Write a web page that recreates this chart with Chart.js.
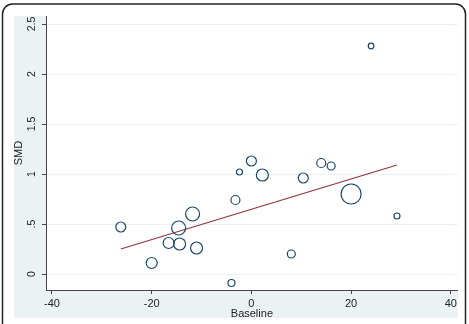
<!DOCTYPE html>
<html>
<head>
<meta charset="utf-8">
<script src="https://cdn.jsdelivr.net/npm/chart.js@4"></script>
<style>
  html, body { margin: 0; padding: 0; background: #fff; }
  #wrap { width: 469px; height: 324px; position: relative; }
</style>
</head>
<body>
<div id="wrap"><canvas id="chart"></canvas></div>
<script>
// study values
const baseline = [-26.2, -20, -16.6, -14.4, -14.6, -11.8, -11, -4, -3.2, -2.4, 0, 2.2, 8, 10.4, 14, 16, 20, 29.2, 24];
const smd = [0.47, 0.11, 0.31, 0.30, 0.46, 0.60, 0.26, -0.09, 0.74, 1.02, 1.13, 0.99, 0.20, 0.96, 1.11, 1.08, 0.80, 0.58, 2.28];
const weight = [5, 5.5, 5.5, 6, 7, 7, 6, 3.5, 4.5, 3, 5, 6, 4, 5, 4.5, 4, 10, 3, 2.8];

// fitted line end points
const fitX = [-26.2, 29.2];
const fitY = [0.25, 1.09];

const xTicks = [-40, -20, 0, 20, 40];
const yTicks = [0, 0.5, 1, 1.5, 2, 2.5];

const navy = '#1a476f';
const maroon = '#90353b';
const shade = '#eaf2f3';

const frame = {
    id: 'frame',
    beforeDraw(chart) {
        const c = chart.ctx;
        const a = chart.chartArea;
        c.save();
        c.fillStyle = '#fff';
        c.fillRect(0, 0, chart.width, chart.height);
        c.beginPath();
        c.roundRect(2.5, 4, 463, 340, 10);
        c.lineWidth = 1.5;
        c.strokeStyle = '#222';
        c.stroke();
        c.fillStyle = shade;
        c.fillRect(14, 16, a.right - 14, 318 - 16);
        c.fillStyle = '#fff';
        c.fillRect(a.left, a.top, a.right - a.left, a.bottom - a.top);
        c.restore();
    }
};

const points = baseline.map((x, i) => ({ x: x, y: smd[i], r: weight[i] }));
const fit = fitX.map((x, i) => ({ x: x, y: fitY[i] }));

new Chart(document.getElementById('chart'), {
    type: 'bubble',
    data: {
        datasets: [{
            data: points,
            borderColor: navy,
            backgroundColor: 'rgba(0,0,0,0)',
            borderWidth: 1.2
        }, {
            type: 'line',
            data: fit,
            borderColor: maroon,
            borderWidth: 1.2,
            pointRadius: 0,
            fill: false
        }]
    },
    options: {
        responsive: true,
        maintainAspectRatio: false,
        animation: false,
        layout: { padding: { top: 16, right: 10, left: 0, bottom: 0 } },
        plugins: { legend: { display: false }, tooltip: { enabled: false } },
        scales: {
            x: {
                type: 'linear',
                min: -41.2,
                max: 41.4,
                afterBuildTicks: s => { s.ticks = xTicks.map(v => ({ value: v })); },
                afterFit: s => { s.height = 34; },
                grid: { drawOnChartArea: false, drawTicks: true, tickLength: 4, tickColor: '#444' },
                border: { color: '#444', width: 1 },
                ticks: {
                    color: '#222',
                    padding: 3,
                    maxRotation: 0,
                    font: { family: 'Liberation Sans, Arial, sans-serif', size: 11 }
                },
                title: {
                    display: true,
                    text: 'Baseline',
                    color: '#222',
                    padding: { top: 0, bottom: 3 },
                    font: { family: 'Liberation Sans, Arial, sans-serif', size: 11 }
                }
            },
            y: {
                type: 'linear',
                min: -0.16,
                max: 2.58,
                afterBuildTicks: s => { s.ticks = yTicks.map(v => ({ value: v })); },
                afterFit: s => { s.width = 46; },
                grid: { color: shade, lineWidth: 1, drawTicks: true, tickLength: 4, tickColor: '#444' },
                border: { color: '#444', width: 1 },
                ticks: {
                    color: '#222',
                    padding: 3,
                    minRotation: 90,
                    maxRotation: 90,
                    crossAlign: 'center',
                    font: { family: 'Liberation Sans, Arial, sans-serif', size: 10.5 },
                    callback: v => v === 0.5 ? '.5' : String(v)
                },
                title: {
                    display: true,
                    text: 'SMD',
                    color: '#222',
                    padding: { top: 12, bottom: 0 },
                    font: { family: 'Liberation Sans, Arial, sans-serif', size: 11 }
                }
            }
        }
    },
    plugins: [frame]
});
</script>
</body>
</html>
